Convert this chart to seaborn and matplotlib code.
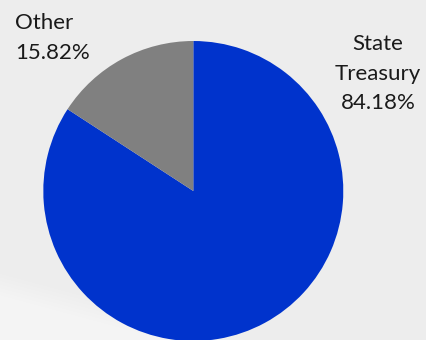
import matplotlib
matplotlib.use("Agg")
import matplotlib.pyplot as plt
import numpy as np
import seaborn as sns

# Share of funding by source
sources = ["State\nTreasury", "Other"]
shares = [84.18, 15.82]
colors = ["#0033CC", "#808080"]

sns.set_style("white")
plt.rcParams["font.family"] = ["Lato", "DejaVu Sans"]

W, H = 426, 340
fig = plt.figure(figsize=(W / 100, H / 100), dpi=100)
fig.patch.set_facecolor("#EDEDED")

# soft, lighter sweep across the lower-left corner of the backdrop
yy, xx = np.mgrid[0:H, 0:W]
d = (yy - 270 - 0.27 * xx) / 25.0          # rows counted from the top
t = np.clip(d, 0, 1)
shade = (0xED + (0xF4 - 0xED) * t) / 255.0
bg = np.dstack([shade, shade, shade])
fig.figimage(bg, xo=0, yo=0, origin="upper", zorder=-5)

# pie box: 300 px square, centred at (193, 191) from the top-left
cx, cy, r = 193.3, 191.0, 150.0
ax = fig.add_axes([(cx - r) / W, (H - cy - r) / H, 2 * r / W, 2 * r / H])
ax.set_zorder(1)
ax.set_facecolor("none")
ax.pie(shares, colors=colors, startangle=90, counterclock=False,
       wedgeprops=dict(linewidth=0), radius=1.0)
ax.set_xlim(-1, 1)
ax.set_ylim(-1, 1)
ax.set_aspect("equal")
ax.axis("off")

txt = dict(fontsize=16, color="#1A1A1A", linespacing=1.6, zorder=2)
fig.text(15 / W, 1 - 13 / H, f"{sources[1]}\n{shares[1]:.2f}%",
         ha="left", va="top", **txt)
fig.text(378 / W, 1 - 34 / H, f"{sources[0]}\n{shares[0]:.2f}%",
         ha="center", va="top", multialignment="center", **txt)

fig.savefig("out.png", dpi=100, facecolor=fig.get_facecolor())
